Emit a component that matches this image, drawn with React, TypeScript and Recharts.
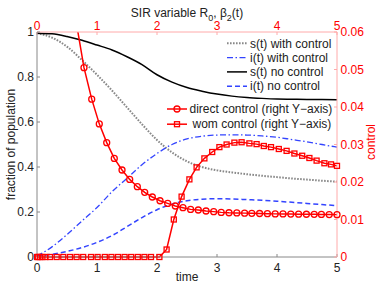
import React from 'react';
import { ComposedChart, Line, XAxis, YAxis } from 'recharts';

const W = 382;
const H = 286;
const FONT = '"Liberation Sans", Arial, Helvetica, sans-serif';
const TXT = '#222';
const RED = '#ff0000';
const PINK = '#ffaaaa';
const GRAY = '#888';
const BLUE = '#3344ff';

// ---- data ----
const tGrid = [0, 0.25, 0.5, 0.75, 1, 1.25, 1.5, 1.75, 2, 2.25, 2.5, 2.75, 3, 3.25, 3.5, 3.75, 4, 4.25, 4.5, 4.75, 5];
const sWithControl = [0.995, 0.975, 0.935, 0.875, 0.81, 0.74, 0.665, 0.59, 0.52, 0.465, 0.425, 0.4, 0.385, 0.376, 0.368, 0.361, 0.355, 0.349, 0.344, 0.339, 0.335];
const iWithControl = [0.005, 0.045, 0.1, 0.16, 0.22, 0.29, 0.35, 0.41, 0.46, 0.5, 0.525, 0.537, 0.542, 0.543, 0.542, 0.538, 0.532, 0.522, 0.512, 0.5, 0.488];
const sNoControl = [0.995, 0.992, 0.98, 0.963, 0.942, 0.92, 0.89, 0.855, 0.81, 0.777, 0.753, 0.737, 0.724, 0.715, 0.709, 0.705, 0.702, 0.701, 0.7, 0.7, 0.699];
const iNoControl = [0.005, 0.012, 0.025, 0.042, 0.065, 0.095, 0.135, 0.175, 0.21, 0.235, 0.25, 0.257, 0.259, 0.258, 0.255, 0.252, 0.248, 0.243, 0.238, 0.233, 0.228];

const directT = [0, 0.05, 0.13, 0.26, 0.39, 0.52, 0.655, 0.783, 0.912, 1.038, 1.162, 1.288, 1.417, 1.545, 1.672, 1.795, 1.922, 2.05, 2.178, 2.305, 2.433, 2.56, 2.688, 2.817, 2.945, 3.07, 3.2, 3.33, 3.46, 3.58, 3.71, 3.84, 3.97, 4.1, 4.23, 4.36, 4.49, 4.62, 4.74, 4.87, 5.0];
const directControl = [0.3, 0.25, 0.2, 0.15, 0.11, 0.08, 0.0625, 0.0505, 0.0421, 0.0355, 0.0305, 0.0263, 0.0232, 0.0207, 0.01875, 0.01725, 0.016, 0.015, 0.0143, 0.0136, 0.01315, 0.0127, 0.01253, 0.01227, 0.0121, 0.0119, 0.0118, 0.01175, 0.0117, 0.01165, 0.0116, 0.01155, 0.0115, 0.01148, 0.01145, 0.01142, 0.0114, 0.01137, 0.01135, 0.01132, 0.0113];

const womT = [0, 0.02, 0.05, 0.09, 0.14, 0.217, 0.328, 0.438, 0.55, 0.66, 0.77, 0.9, 1.01, 1.13, 1.24, 1.35, 1.46, 1.57, 1.68, 1.79, 1.9, 2.04, 2.16, 2.28, 2.41, 2.54, 2.66, 2.79, 2.92, 3.04, 3.16, 3.29, 3.41, 3.54, 3.66, 3.78, 3.9, 4.03, 4.16, 4.29, 4.42, 4.54, 4.66, 4.79, 4.9, 5];
const womControl = [0, 0, 0, 0, 0, 0, 0, 0, 0, 0, 0, 0, 0, 0, 0, 0, 0, 0, 0, 0, 0, 0, 0.002, 0.01, 0.0161, 0.0207, 0.0239, 0.0263, 0.028, 0.0293, 0.03, 0.0305, 0.0306, 0.0303, 0.0301, 0.0296, 0.0293, 0.0288, 0.0283, 0.0276, 0.027, 0.0264, 0.0257, 0.025, 0.0247, 0.0243];

const xTicks = [0, 1, 2, 3, 4, 5];
const leftTicks = [0, 0.2, 0.4, 0.6, 0.8, 1];
const rightTicks = [0, 0.01, 0.02, 0.03, 0.04, 0.05, 0.06];

const curveData = tGrid.map((t, i) => ({
  t,
  sw: sWithControl[i],
  iw: iWithControl[i],
  sn: sNoControl[i],
  in: iNoControl[i],
}));
const directData = directT.map((t, i) => ({ t, v: directControl[i] }));
const womData = womT.map((t, i) => ({ t, v: womControl[i] }));

// ---- layout constants ----
const PL = 37, PR = 337, PT = 32, PB = 257;

const legendTop = [
  { label: 's(t) with control', color: '#888', dash: '1.6 1.4', width: 2 },
  { label: 'i(t) with control', color: BLUE, dash: '6 2.5 1.5 2.5', width: 1.3 },
  { label: 's(t) no control', color: '#000', dash: undefined, width: 1.5 },
  { label: 'i(t) no control', color: BLUE, dash: '5 3', width: 1.5 },
];
const legendRed = [
  { label: 'direct control (right Y\u2212axis)', marker: 'circle' },
  { label: 'wom control (right Y\u2212axis)', marker: 'square' },
];

const SquareDot = (p: any) => {
  const { cx, cy, index } = p;
  if (cx == null || cy == null) return <g key={index} />;
  return <rect key={index} x={cx - 2.5} y={cy - 2.5} width={5} height={5} fill="none" stroke={RED} strokeWidth={1.3} />;
};

const tickStyle = { fill: TXT, fontSize: 12, fontFamily: FONT };
const redTick = { fill: RED, fontSize: 12, fontFamily: FONT };

const Overlay = () => (
  <svg width={W} height={H} style={{ position: 'absolute', left: 0, top: 0, pointerEvents: 'none' }}>
    {legendTop.map((d, i) => {
      const y = 43.3 + i * 14.3;
      return (
        <g key={d.label}>
          <line x1={227} x2={247} y1={y} y2={y} stroke={d.color} strokeWidth={d.width} strokeDasharray={d.dash} />
          <text x={250} y={y + 4.2} fontSize={12} fontFamily={FONT} fill={TXT}>{d.label}</text>
        </g>
      );
    })}
    {legendRed.map((d, i) => {
      const y = 109 + i * 15.2;
      return (
        <g key={d.label}>
          <line x1={167} x2={187} y1={y} y2={y} stroke={RED} strokeWidth={1.5} />
          {d.marker === 'circle' ? (
            <circle cx={177} cy={y} r={3} fill="none" stroke={RED} strokeWidth={1.3} />
          ) : (
            <rect x={174.5} y={y - 2.5} width={5} height={5} fill="none" stroke={RED} strokeWidth={1.3} />
          )}
          <text x={i === 0 ? 189.5 : 192.5} y={y + 4.2} fontSize={12} fontFamily={FONT} fill={TXT}>{d.label}</text>
        </g>
      );
    })}
  </svg>
);

export default function App() {
  return (
    <div style={{ position: 'absolute', left: 0, top: 0, width: W, height: H, background: '#fff' }}>
      <ComposedChart width={W} height={H} margin={{ top: 0, right: 0, bottom: 0, left: 0 }}>
        <XAxis
          dataKey="t"
          type="number"
          domain={[0, 5]}
          ticks={xTicks}
          interval={0}
          height={H - PB}
          tickSize={-3}
          tickMargin={9}
          tick={tickStyle}
          axisLine={{ stroke: GRAY }}
          tickLine={{ stroke: GRAY }}
          label={() => (
            <text x={(PL + PR) / 2} y={281} textAnchor="middle" fontSize={12} fontFamily={FONT} fill={TXT}>time</text>
          )}
        />
        <XAxis
          xAxisId="top"
          dataKey="t"
          orientation="top"
          type="number"
          domain={[0, 5]}
          ticks={xTicks}
          interval={0}
          height={PT}
          tickSize={-3}
          tickMargin={5.5}
          tick={redTick}
          axisLine={{ stroke: PINK }}
          tickLine={{ stroke: PINK }}
          label={() => (
            <text x={(PL + PR) / 2} y={17} textAnchor="middle" fontSize={12} fontFamily={FONT} fill={TXT}>
              SIR variable R<tspan fontSize={9} dy={3.5}>0</tspan>
              <tspan dy={-3.5}>, β</tspan>
              <tspan fontSize={9} dy={3.5}>2</tspan>
              <tspan dy={-3.5}>(t)</tspan>
            </text>
          )}
        />
        <YAxis
          yAxisId="l"
          orientation="left"
          type="number"
          domain={[0, 1]}
          ticks={leftTicks}
          interval={0}
          width={PL}
          tickSize={-3}
          tickMargin={6}
          tick={tickStyle}
          axisLine={{ stroke: GRAY }}
          tickLine={{ stroke: GRAY }}
          tickFormatter={(v: number) => (v === 0 || v === 1 ? String(v) : v.toFixed(1))}
          label={() => (
            <text x={15} y={(PT + PB) / 2} transform={`rotate(-90 15 ${(PT + PB) / 2})`} textAnchor="middle" fontSize={12} fontFamily={FONT} fill={TXT}>fraction of population</text>
          )}
        />
        <YAxis
          yAxisId="r"
          orientation="right"
          type="number"
          domain={[0, 0.06]}
          ticks={rightTicks}
          interval={0}
          width={W - PR}
          allowDataOverflow
          tickSize={-3}
          tickMargin={6.5}
          tick={redTick}
          axisLine={{ stroke: PINK }}
          tickLine={{ stroke: PINK }}
          tickFormatter={(v: number) => (v === 0 ? '0' : v.toFixed(2))}
          label={() => (
            <text x={375} y={142} transform="rotate(-90 375 142)" textAnchor="middle" fontSize={12} fontFamily={FONT} fill={RED}>control</text>
          )}
        />
        <YAxis yAxisId="r2" orientation="right" type="number" domain={[0, 0.06]} hide />

        <Line yAxisId="l" data={curveData} dataKey="sw" type="monotone" stroke="#888" strokeWidth={2} strokeDasharray="1.6 1.4" dot={false} isAnimationActive={false} />
        <Line yAxisId="l" data={curveData} dataKey="iw" type="monotone" stroke={BLUE} strokeWidth={1.3} strokeDasharray="6 2.5 1.5 2.5" dot={false} isAnimationActive={false} />
        <Line yAxisId="l" data={curveData} dataKey="sn" type="monotone" stroke="#000" strokeWidth={1.5} dot={false} isAnimationActive={false} />
        <Line yAxisId="l" data={curveData} dataKey="in" type="monotone" stroke={BLUE} strokeWidth={1.5} strokeDasharray="5 3" dot={false} isAnimationActive={false} />
        <Line yAxisId="r" data={directData} dataKey="v" type="linear" stroke={RED} strokeWidth={1.5} dot={{ r: 3, fill: 'none', stroke: RED, strokeWidth: 1.3 }} isAnimationActive={false} />
        <Line xAxisId="top" yAxisId="r2" data={womData} dataKey="v" type="linear" stroke={RED} strokeWidth={1.5} dot={SquareDot} isAnimationActive={false} />
      </ComposedChart>
      <Overlay />
    </div>
  );
}
